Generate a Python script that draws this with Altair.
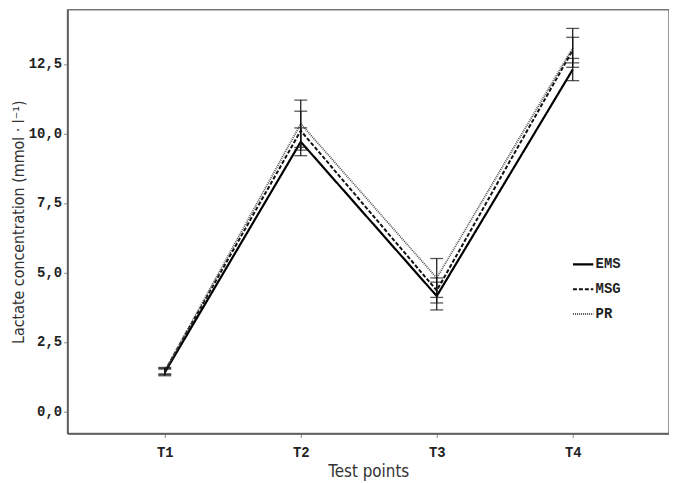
import altair as alt
import pandas as pd

points = ["T1", "T2", "T3", "T4"]
groups = ["EMS", "MSG", "PR"]
ems_mean = [1.40, 9.70, 4.15, 12.30]
ems_err = [0.12, 0.50, 0.50, 0.40]
msg_mean = [1.45, 10.10, 4.35, 13.00]
msg_err = [0.10, 0.70, 0.45, 0.46]
pr_mean = [1.45, 10.35, 4.80, 13.08]
pr_err = [0.13, 0.85, 0.70, 0.70]

rows = []
for g, means, errs in zip(groups, [ems_mean, msg_mean, pr_mean], [ems_err, msg_err, pr_err]):
    for i, (p, m, e) in enumerate(zip(points, means, errs)):
        rows.append({"group": g, "point": p, "idx": i + 1, "mean": m,
                     "lo": m - e, "hi": m + e})
df = pd.DataFrame(rows)

title_font = "Liberation Sans Narrow, DejaVu Sans Condensed, sans-serif"
mono = "Liberation Mono, DejaVu Sans Mono, monospace"

x = alt.X("idx:Q", scale=alt.Scale(domain=[0.285, 4.708], nice=False, zero=False),
          axis=alt.Axis(values=[1, 2, 3, 4], labelExpr="'T' + datum.value",
                        title="Test points", grid=False, tickSize=4,
                        labelPadding=8, titlePadding=4))
y = alt.Y("mean:Q", scale=alt.Scale(domain=[-0.8, 14.45], nice=False, zero=False),
          axis=alt.Axis(values=[0, 2.5, 5, 7.5, 10, 12.5],
                        labelExpr="replace(format(datum.value, '.1f'), '.', ',')",
                        title="Lactate concentration (mmol · l⁻¹)", grid=False,
                        tickSize=4, labelPadding=2, titlePadding=2))

leg = alt.Legend(title=None, orient="none", legendX=508, legendY=245,
                 symbolType="stroke", symbolSize=420, symbolStrokeWidth=2,
                 labelFont=mono, labelFontWeight="bold", labelFontSize=14,
                 labelColor="#222", rowPadding=6, padding=0, labelOffset=1)

color = alt.Color("group:N", scale=alt.Scale(domain=groups, range=["#000000", "#111111", "#555555"]),
                  legend=leg)
dash = alt.StrokeDash("group:N", scale=alt.Scale(domain=groups, range=[[1, 0], [4, 2], [1, 1]]),
                      legend=leg)
sw = alt.StrokeWidth("group:N", scale=alt.Scale(domain=groups, range=[2.2, 1.8, 1.6]),
                     legend=leg)

lines = alt.Chart(df).mark_line().encode(x=x, y=y, color=color, strokeDash=dash,
                                         strokeWidth=sw, detail="group:N")

rules = alt.Chart(df).mark_rule(color="#111", strokeWidth=1.2).encode(
    x="idx:Q", y="lo:Q", y2="hi:Q")
caps_lo = alt.Chart(df).mark_tick(color="#111", orient="horizontal", size=13, thickness=1.3).encode(
    x="idx:Q", y="lo:Q")
caps_hi = alt.Chart(df).mark_tick(color="#111", orient="horizontal", size=13, thickness=1.3).encode(
    x="idx:Q", y="hi:Q")

chart = alt.layer(lines, rules, caps_lo, caps_hi).properties(
    width=606, height=427,
    background="white",
    autosize=alt.AutoSizeParams(type="none"),
    padding={"left": 60, "top": 0, "right": 0, "bottom": 50},
).configure_view(stroke="#777", strokeWidth=1.5).configure_axis(
    domainColor="#555", domainWidth=1.5, tickColor="#888",
    labelFont=mono, labelFontWeight="bold", labelFontSize=14, labelColor="#222",
    titleFont=title_font, titleFontSize=17, titleFontWeight="normal", titleColor="#333",
).configure_axisY(titleFontSize=16)

chart.save("out.html", embed_options={"renderer": "svg", "actions": False})
